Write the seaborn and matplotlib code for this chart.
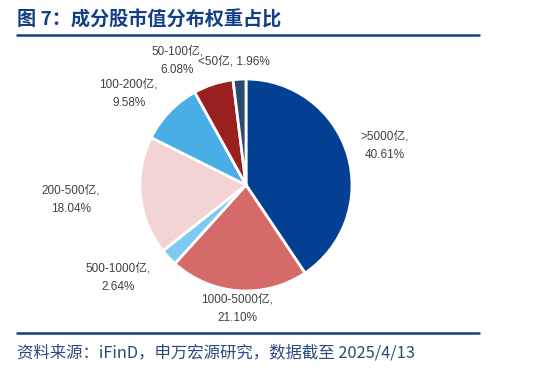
import matplotlib.pyplot as plt
import seaborn as sns
import numpy as np

labels = [">5000亿", "1000-5000亿", "500-1000亿", "200-500亿", "100-200亿", "50-100亿", "<50亿"]
shares = [40.61, 21.10, 2.64, 18.04, 9.58, 6.08, 1.96]
colors = ["#033f93", "#d46b69", "#7dcbf2", "#f3d4d5", "#4aaee6", "#9a1f1f", "#2c4a6f"]

# label placement: distance from centre (in radii) and angle shift in degrees
label_dist = [1.36, 1.17, 1.49, 1.66, 1.40, 1.34, 1.17]
label_shift = [-1, 0, -7, -1, 6, 11, 2]

sns.set_theme(style="white")
plt.rcParams["font.family"] = ["Noto Sans CJK SC", "DejaVu Sans"]

W, H = 541, 373
cx, cy, r = 246, 185, 106

fig = plt.figure(figsize=(W / 100, H / 100), dpi=100)
ax = fig.add_axes([0, 0, 1, 1])

wedges, _ = ax.pie(
    shares,
    colors=sns.color_palette(colors),
    startangle=90,
    counterclock=False,
    wedgeprops=dict(edgecolor="white", linewidth=2),
)

for w, lab, val, d, s in zip(wedges, labels, shares, label_dist, label_shift):
    th = np.deg2rad((w.theta1 + w.theta2) / 2 + s)
    txt = f"{lab}, {val:.2f}%" if lab == "<50亿" else f"{lab},\n{val:.2f}%"
    ax.text(d * np.cos(th), d * np.sin(th), txt, ha="center", va="center",
            fontsize=8.5, color="#404040", linespacing=1.7,
            family=["Liberation Sans", "Noto Sans CJK SC"])

ax.set_xlim(-cx / r, (W - cx) / r)
ax.set_ylim((cy - H) / r, cy / r)
ax.set_aspect("auto")
ax.axis("off")

navy = "#123f85"
fig.text(17 / W, 1 - 20 / H, "图 7：成分股市值分布权重占比", fontsize=13.8,
         fontweight="bold", color=navy, va="center", ha="left")
fig.add_artist(plt.Line2D([17 / W, 479 / W], [1 - 35 / H] * 2, color=navy, lw=1.8))
fig.add_artist(plt.Line2D([17 / W, 479 / W], [1 - 333 / H] * 2, color=navy, lw=1.8))
fig.text(17 / W, 1 - 353 / H, "资料来源：iFinD，申万宏源研究，数据截至 2025/4/13",
         fontsize=11.8, color="#2a4a80", va="center", ha="left")

fig.savefig("out.png", dpi=100)
